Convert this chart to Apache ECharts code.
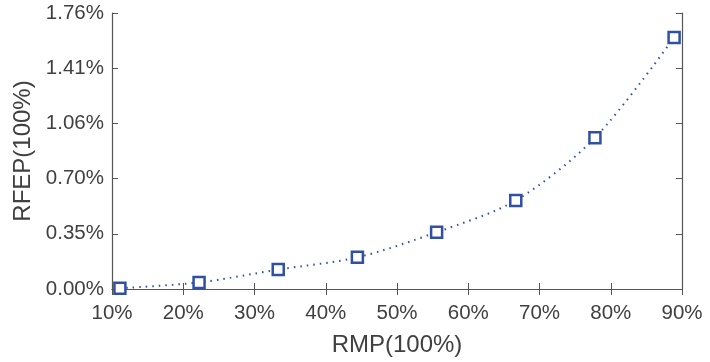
<!DOCTYPE html>
<html>
<head>
<meta charset="utf-8">
<script src="https://cdn.jsdelivr.net/npm/echarts@6/dist/echarts.min.js"></script>
<style>
  html, body { margin: 0; padding: 0; background: #fff; }
  #main { width: 710px; height: 362px; }
</style>
</head>
<body>
<div id="main"></div>
<script>
// RMP (%) on x, RFEP (%) on y
var rmp = [11.11, 22.22, 33.33, 44.44, 55.56, 66.67, 77.78, 88.89];
var rfep = [0.005, 0.042, 0.124, 0.202, 0.362, 0.565, 0.964, 1.604];
var yTickLabels = ['0.00%', '0.35%', '0.70%', '1.06%', '1.41%', '1.76%'];

var chart = echarts.init(document.getElementById('main'), null, { renderer: 'canvas' });

var axisColor = '#555555';
var textColor = '#404040';
var font = 'Liberation Sans, Arial, sans-serif';

var option = {
  backgroundColor: '#fff',
  animation: false,
  grid: { left: 112, right: 28, top: 13, bottom: 73, outerBoundsMode: 'none', containLabel: false },
  xAxis: [{
    type: 'value', min: 10, max: 90, interval: 10,
    name: 'RMP(100%)', nameLocation: 'middle', nameGap: 44,
    nameTextStyle: { color: textColor, fontSize: 24, fontFamily: font },
    axisLine: { show: true, lineStyle: { color: axisColor, width: 1.2 } },
    axisTick: { show: true, inside: true, length: 6, lineStyle: { color: axisColor } },
    axisLabel: { color: textColor, fontSize: 20.5, fontFamily: font, margin: 14, formatter: '{value}%' },
    splitLine: { show: false }
  }, {
    type: 'value', min: 10, max: 90, interval: 10, position: 'top',
    axisLine: { show: true, lineStyle: { color: axisColor, width: 1.2 } },
    axisTick: { show: true, inside: true, length: 6, lineStyle: { color: axisColor } },
    axisLabel: { show: false }, splitLine: { show: false }
  }],
  yAxis: [{
    type: 'value', min: 0, max: 1.76, interval: 0.352,
    name: 'RFEP(100%)', nameLocation: 'middle', nameGap: 74,
    nameTextStyle: { color: textColor, fontSize: 24, fontFamily: font },
    axisLine: { show: true, lineStyle: { color: axisColor, width: 1.2 } },
    axisTick: { show: true, inside: true, length: 6, lineStyle: { color: axisColor } },
    axisLabel: {
      color: textColor, fontSize: 20.5, fontFamily: font, margin: 8,
      formatter: function (v) { return yTickLabels[Math.round(v / 0.352)]; }
    },
    splitLine: { show: false }
  }, {
    type: 'value', min: 0, max: 1.76, interval: 0.352, position: 'right',
    axisLine: { show: true, lineStyle: { color: axisColor, width: 1.2 } },
    axisTick: { show: true, inside: true, length: 6, lineStyle: { color: axisColor } },
    axisLabel: { show: false }, splitLine: { show: false }
  }],
  series: [{
    type: 'line',
    data: rmp.map(function (x, i) { return [x, rfep[i]]; }),
    smooth: 0.3,
    symbol: 'rect',
    symbolSize: 11,
    itemStyle: { color: '#fff', borderColor: '#3050a4', borderWidth: 2.5 },
    lineStyle: { color: '#3050a4', width: 2, type: [1.5, 5] },
    z: 3
  }]
};
chart.setOption(option);
</script>
</body>
</html>
